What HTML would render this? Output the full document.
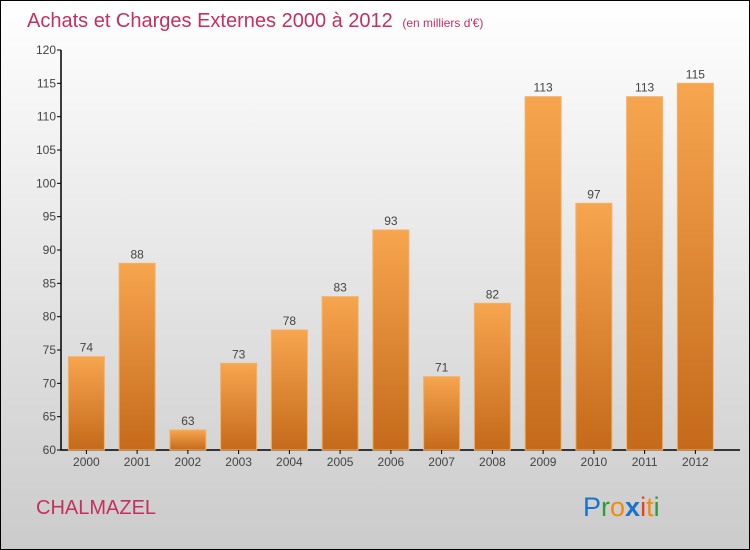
<!DOCTYPE html>
<html><head><meta charset="utf-8"><style>
body{margin:0}
svg{display:block;font-family:"Liberation Sans",sans-serif}
</style></head><body>
<svg width="750" height="550" viewBox="0 0 750 550">
<defs>
<linearGradient id="bg" x1="0" y1="0" x2="0" y2="1"><stop offset="0" stop-color="#ffffff"/><stop offset="1" stop-color="#cbcbcb"/></linearGradient>
<linearGradient id="bar" x1="0" y1="0" x2="0" y2="1"><stop offset="0" stop-color="#f7a54f"/><stop offset="1" stop-color="#c46a1a"/></linearGradient>
</defs>
<rect x="0.5" y="0.5" width="749" height="549" fill="url(#bg)" stroke="#000"/>
<text x="27" y="27" font-size="20" fill="#c5305f">Achats et Charges Externes 2000 à 2012 <tspan font-size="12" dx="4">(en milliers d'€)</tspan></text>
<g id="yaxis"></g>
<g id="bars"></g>
<text x="36" y="514" font-size="20" fill="#c5305f">CHALMAZEL</text>
<g font-size="27" font-family="'Liberation Sans',sans-serif">
<text x="583" y="516"><tspan fill="#1a73c9">P</tspan><tspan fill="#2e9b3a">r</tspan><tspan fill="#f28a10">o</tspan><tspan fill="#1a73c9" font-weight="bold">x</tspan><tspan fill="#e8401c">i</tspan><tspan fill="#f28a10">t</tspan><tspan fill="#2e9b3a">i</tspan></text>
</g>
</svg>
<script>
const years=["2000","2001","2002","2003","2004","2005","2006","2007","2008","2009","2010","2011","2012"];
const values=[74,88,63,73,78,83,93,71,82,113,97,113,115];
const yTicks=[60,65,70,75,80,85,90,95,100,105,110,115,120];
const NS="http://www.w3.org/2000/svg";
const x0=61,xAxisEnd=740,yMin=60,yMax=120,py0=450,py1=50;
const band=50.75;
const y=v=>py0-(v-yMin)/(yMax-yMin)*(py0-py1);
const xc=i=>x0+band*(i+0.5);
function mk(t,a,p){const e=document.createElementNS(NS,t);for(const k in a)e.setAttribute(k,a[k]);p.appendChild(e);return e;}
const ya=document.getElementById('yaxis'),bg=document.getElementById('bars');
yTicks.forEach(v=>{
 const l=mk('line',{x1:x0-4,x2:x0,y1:y(v),y2:y(v),stroke:'#000'},ya);
 
 
 const t=mk('text',{x:x0-5,y:y(v)+4,'text-anchor':'end','font-size':12,fill:'#444'},ya);
 t.textContent=v;
 
 
});
years.forEach((yr,i)=>{
 const v=values[i],w=36;
 const r=mk('rect',{x:xc(i)-w/2,y:y(v),width:w,height:py0-y(v),fill:'url(#bar)',stroke:'#f3b067','stroke-width':1},bg);
 
 
 const t=mk('text',{x:xc(i),y:y(v)-5,'text-anchor':'middle','font-size':12,fill:'#444'},bg);
 t.textContent=v;
 
 
 const xl=mk('text',{x:xc(i),y:py0+16,'text-anchor':'middle','font-size':12,fill:'#444'},bg);
 xl.textContent=yr;
 
 
 const tk=mk('line',{x1:xc(i),x2:xc(i),y1:py0,y2:py0+4,stroke:'#000'},bg);
 
 
});
const ax=mk('path',{d:`M${x0},${py1} V${py0} H${xAxisEnd}`,stroke:'#000','stroke-width':1.5,fill:'none'},ya);


</script>
</body></html>
